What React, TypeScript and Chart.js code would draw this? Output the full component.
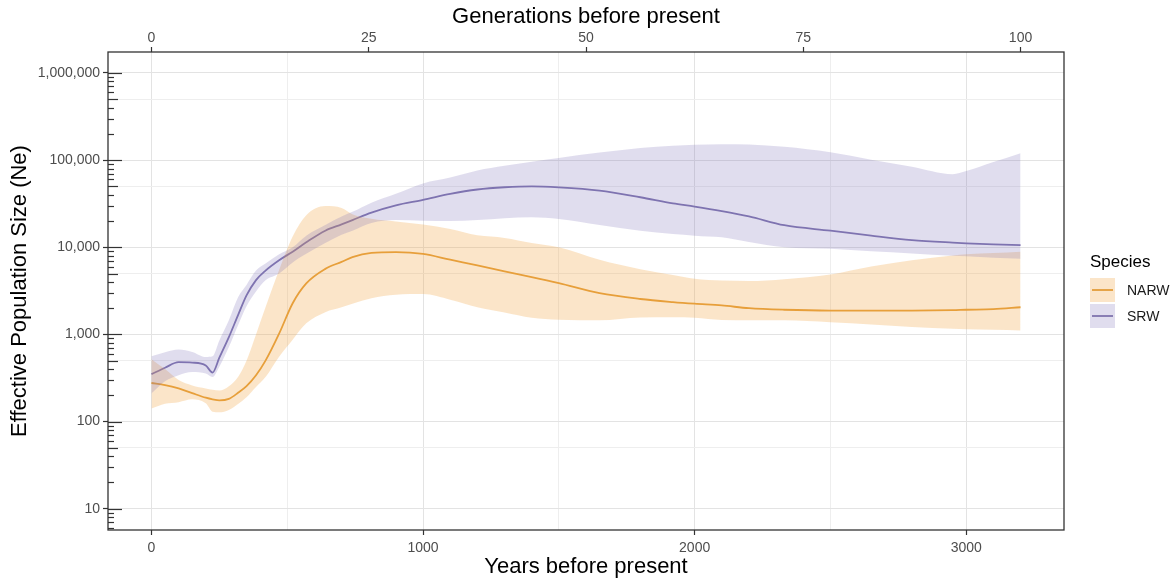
import React, { useEffect, useRef } from 'react';
import { Chart, registerables } from 'chart.js';
Chart.register(...registerables);

const FONT = '"Liberation Sans", Arial, Helvetica, sans-serif';

// ---- data ----
const years = [0, 50, 100, 150, 200, 225, 250, 285, 320, 350, 385, 420, 470, 520, 570, 640, 700, 740, 810, 900,
  1000, 1100, 1200, 1300, 1400, 1500, 1650, 1800, 1920, 2000, 2100, 2200, 2330, 2500, 2650, 2800, 2950, 3000, 3100, 3200];

const srwMedian = [350, 415, 480, 475, 440, 365, 540, 930, 1700, 2800, 4200, 5400, 7100, 8900, 11400, 15500, 18300, 20500, 25000, 30300,
  35000, 41000, 46000, 48800, 50000, 48700, 44700, 37500, 31900, 29300, 26000, 22600, 17900, 15500, 13600, 12100, 11300, 11100, 10800, 10600];
const srwUpper = [560, 625, 670, 630, 550, 560, 850, 1450, 2700, 3700, 5400, 6500, 8300, 10000, 13600, 18000, 22500, 25500, 32500, 41000,
  54000, 63000, 76000, 86000, 96000, 106000, 122000, 138000, 146000, 150000, 152000, 151000, 142000, 123000, 101000, 84000, 69000, 75000, 95000, 120000];
const srwLower = [210, 290, 340, 370, 355, 325, 425, 715, 1300, 2100, 3100, 4170, 5000, 6700, 8400, 11200, 13900, 15500, 19000, 20500,
  20200, 20000, 20500, 21500, 22100, 21100, 18000, 15500, 14200, 13600, 13000, 11500, 10000, 9600, 9000, 8500, 8000, 7900, 7600, 7400];

const narwMedian = [277, 262, 240, 212, 188, 180, 175, 182, 215, 255, 340, 500, 1020, 2280, 3850, 5650, 6800, 7700, 8600, 8800,
  8400, 7200, 6200, 5300, 4550, 3870, 2970, 2550, 2350, 2250, 2150, 2000, 1920, 1880, 1880, 1880, 1900, 1920, 1950, 2050];
const narwUpper = [520, 400, 300, 260, 240, 232, 228, 255, 330, 500, 1000, 2050, 5500, 13300, 23300, 29800, 28300, 24000, 21200, 19800,
  18200, 16200, 13700, 12800, 11200, 10000, 7200, 5600, 4800, 4350, 4150, 4100, 4300, 4870, 6000, 7100, 8040, 8300, 8600, 8900];
const narwLower = [141, 160, 167, 180, 162, 130, 128, 136, 160, 190, 250, 324, 555, 870, 1340, 1800, 2050, 2250, 2600, 2850,
  2900, 2500, 2050, 1780, 1550, 1470, 1450, 1560, 1570, 1550, 1460, 1450, 1450, 1380, 1300, 1220, 1160, 1150, 1130, 1110];

const speciesNames = ['NARW', 'SRW'];
const lineColors = ['#E39E3A', '#7F74AE'];
const bandColors = ['rgba(240,160,60,0.28)', 'rgba(125,112,185,0.24)'];

const xMajorTicks = [0, 1000, 2000, 3000];
const xMinorTicks = [500, 1500, 2500];
const genTicks = [0, 25, 50, 75, 100];
const yMajorTicks = [10, 100, 1000, 10000, 100000, 1000000];
const yMinorTicks = [50, 500, 5000, 50000, 500000];
const yearsPerGeneration = 32;

const xMin = -160, xMax = 3360;
const yMin = 5.7, yMax = 1.74e6;

const pts = (ys: number[]) => years.map((x, i) => ({ x, y: ys[i] }));
const fmt = (v: number) => Math.round(v).toString().replace(/\B(?=(\d{3})+(?!\d))/g, ',');
const isMajorLog = (v: number) => Math.abs(Math.log10(v) - Math.round(Math.log10(v))) < 1e-9;

const panelPlugin = {
  id: 'panel',
  afterDatasetsDraw(chart: any) {
    const { ctx, chartArea: a } = chart;
    const y = chart.scales.y;
    ctx.save();
    // log ticks inside panel
    ctx.strokeStyle = '#333333';
    ctx.lineWidth = 1.2;
    for (let k = 0; k <= 6; k++) {
      for (let m = 1; m <= 9; m++) {
        const v = m * Math.pow(10, k);
        if (v < yMin || v > yMax) continue;
        const py = Math.round(y.getPixelForValue(v)) + 0.5;
        const len = m === 1 ? 14 : m === 5 ? 10 : 6;
        ctx.beginPath();
        ctx.moveTo(a.left, py);
        ctx.lineTo(a.left + len, py);
        ctx.stroke();
      }
    }
    // panel border
    ctx.lineWidth = 1.3;
    ctx.strokeRect(a.left, a.top, a.right - a.left, a.bottom - a.top);
    // legend
    const lx = a.right + 26;
    ctx.fillStyle = '#000';
    ctx.font = `17px ${FONT}`;
    ctx.textAlign = 'left';
    ctx.textBaseline = 'middle';
    ctx.fillText('Species', lx, 262);
    speciesNames.forEach((name, i) => {
      const top = 278 + i * 26;
      ctx.fillStyle = bandColors[i];
      ctx.fillRect(lx, top, 25, 24);
      ctx.strokeStyle = lineColors[i];
      ctx.lineWidth = 1.8;
      ctx.beginPath();
      ctx.moveTo(lx + 2, top + 12);
      ctx.lineTo(lx + 23, top + 12);
      ctx.stroke();
      ctx.fillStyle = '#1a1a1a';
      ctx.font = `14px ${FONT}`;
      ctx.fillText(name, lx + 37, top + 13);
    });
    ctx.restore();
  },
};

export default function App() {
  const ref = useRef<HTMLCanvasElement>(null);
  useEffect(() => {
    const canvas = ref.current!;
    const series = [
      { up: narwUpper, lo: narwLower, med: narwMedian },
      { up: srwUpper, lo: srwLower, med: srwMedian },
    ];
    const datasets: any[] = [];
    // bands (SRW first, then NARW)
    [1, 0].forEach((i) => {
      datasets.push({
        label: speciesNames[i] + ' upper', data: pts(series[i].up), borderWidth: 0, borderColor: 'transparent',
        backgroundColor: bandColors[i], fill: '+1', pointRadius: 0, cubicInterpolationMode: 'monotone',
      });
      datasets.push({
        label: speciesNames[i] + ' lower', data: pts(series[i].lo), borderWidth: 0, borderColor: 'transparent',
        fill: false, pointRadius: 0, cubicInterpolationMode: 'monotone',
      });
    });
    [0, 1].forEach((i) => {
      datasets.push({
        label: speciesNames[i], data: pts(series[i].med), borderColor: lineColors[i], borderWidth: 1.8,
        fill: false, pointRadius: 0, cubicInterpolationMode: 'monotone',
      });
    });

    const tickFont = { family: FONT, size: 14 };
    const titleFont = { family: FONT, size: 22 };

    const chart = new Chart(canvas, {
      type: 'line',
      data: { datasets },
      plugins: [panelPlugin],
      options: {
        animation: false,
        responsive: false,
        events: [],
        layout: { padding: { left: 0, top: 0, right: 111, bottom: 0 } },
        plugins: { legend: { display: false }, tooltip: { enabled: false } },
        scales: {
          x: {
            type: 'linear', position: 'bottom', min: xMin, max: xMax,
            afterBuildTicks: (s: any) => { s.ticks = [...xMajorTicks, ...xMinorTicks].sort((a, b) => a - b).map((v) => ({ value: v })); },
            afterFit: (s: any) => { s.height = 51; s.paddingLeft = 0; s.paddingRight = 0; },
            ticks: {
              autoSkip: false, maxRotation: 0, padding: 5, color: '#4D4D4D', font: tickFont,
              callback: (v: any) => (xMajorTicks.includes(Number(v)) ? String(v) : ''),
            },
            grid: {
              color: (c: any) => (xMajorTicks.includes(c.tick?.value) ? '#E3E3E3' : '#EEEEEE'),
              tickColor: (c: any) => (xMajorTicks.includes(c.tick?.value) ? '#333333' : 'rgba(0,0,0,0)'),
              lineWidth: 1, tickWidth: 1.2, tickLength: 5,
            },
            border: { display: false },
            title: { display: true, text: 'Years before present', color: '#000', font: titleFont, padding: { top: 0, bottom: 1 } },
          },
          x2: {
            type: 'linear', position: 'top', min: xMin / yearsPerGeneration, max: xMax / yearsPerGeneration,
            afterBuildTicks: (s: any) => { s.ticks = genTicks.map((v) => ({ value: v })); },
            afterFit: (s: any) => { s.height = 52; s.paddingLeft = 0; s.paddingRight = 0; },
            ticks: { autoSkip: false, maxRotation: 0, padding: 0, color: '#4D4D4D', font: tickFont, callback: (v: any) => String(v) },
            grid: { drawOnChartArea: false, tickColor: '#333333', tickWidth: 1.2, tickLength: 5 },
            border: { display: false },
            title: { display: true, text: 'Generations before present', color: '#000', font: titleFont, padding: { top: 4, bottom: 0 } },
          },
          y: {
            type: 'logarithmic', position: 'left', min: yMin, max: yMax,
            afterBuildTicks: (s: any) => { s.ticks = [...yMajorTicks, ...yMinorTicks].sort((a, b) => a - b).map((v) => ({ value: v })); },
            afterFit: (s: any) => { s.width = 108; s.paddingTop = 0; s.paddingBottom = 0; },
            ticks: {
              autoSkip: false, padding: 3, color: '#4D4D4D', font: tickFont,
              callback: (v: any) => (isMajorLog(Number(v)) ? fmt(Number(v)) : ''),
            },
            grid: {
              color: (c: any) => (c.tick && isMajorLog(c.tick.value) ? '#E3E3E3' : '#EEEEEE'),
              tickColor: (c: any) => (c.tick && isMajorLog(c.tick.value) ? '#333333' : 'rgba(0,0,0,0)'),
              lineWidth: 1, tickWidth: 1.2, tickLength: 5,
            },
            border: { display: false },
            title: { display: true, text: 'Effective Population Size (Ne)', color: '#000', font: titleFont, padding: { top: 7, bottom: 0 } },
          },
        },
      } as any,
    });
    return () => chart.destroy();
  }, []);
  return (
    <div style={{ position: 'fixed', left: 0, top: 0, width: 1175, height: 581, background: '#fff' }}>
      <canvas ref={ref} width={1175} height={581} style={{ display: 'block' }} />
    </div>
  );
}
